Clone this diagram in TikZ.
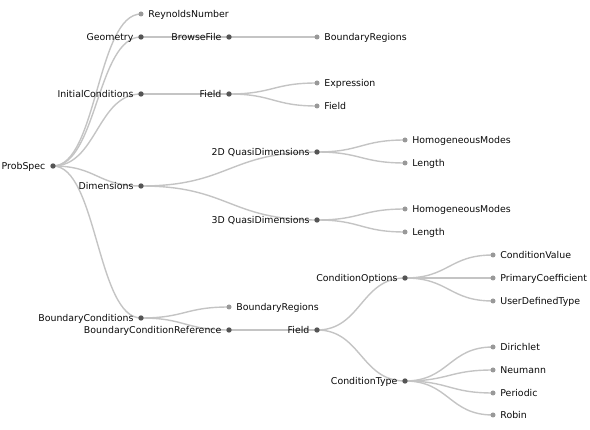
\documentclass[tikz,border=0pt]{standalone}
\usepackage{fontspec}
\setmainfont{DejaVu Sans}
\usepackage{tikz}
\usetikzlibrary{
  calc,%
  positioning
}
\definecolor{edgegray}{HTML}{C4C4C4}
\definecolor{innergray}{HTML}{555555}
\definecolor{leafgray}{HTML}{999999}
\definecolor{textgray}{HTML}{0A0A0A}
\pgfdeclarelayer{background}
\pgfsetlayers{background,main}
\tikzset{
  treeedge/.style={draw=edgegray, line width=1.4pt},
  inner/.style={circle, fill=innergray, inner sep=0pt, minimum size=5.4pt},
  leaf/.style={circle, fill=leafgray, inner sep=0pt, minimum size=5pt},
  every label/.style={font=\fontsize{9.4}{11}\selectfont, text=textgray,
    inner sep=0pt},
  label distance=4.5pt,
  % internal nodes carry their name on the left, leaves on the right
  lft/.style={label={[anchor=base east, yshift=-3.3pt]left:#1}},
  rgt/.style={label={[anchor=base west, yshift=-3.3pt]right:#1}}
}

\begin{document}
\begin{tikzpicture}[x=1pt, y=-1pt]
  \useasboundingbox (0,0) rectangle (590,430); %
  % depth 0 and 1
  \node[inner, lft=ProbSpec] (ps) at (53,166) {}; %
  \node[leaf, rgt=ReynoldsNumber] (reyn) at (141,14) {}; %
  \node[inner, lft=Geometry] (geom) at (141,37) {}; %
  \node[inner, lft=InitialConditions] (ic) at (141,94) {}; %
  \node[inner, lft=Dimensions] (dims) at (141,186) {}; %
  \node[inner, lft=BoundaryConditions] (bc) at (141,318) {}; %
  % depth 2
  \node[inner, lft=BrowseFile] (bfile) at (229,37) {}; %
  \node[inner, lft=Field] (icfield) at (229,94) {}; %
  \node[leaf, rgt=BoundaryRegions] (bregb) at (229,307) {}; %
  \node[inner, lft=BoundaryConditionReference] (bcref) at (229,330) {}; %
  % depth 3
  \node[leaf, rgt=BoundaryRegions] (brega) at (317,37) {}; %
  \node[leaf, rgt=Expression] (expr) at (317,83) {}; %
  \node[leaf, rgt=Field] (fieldleaf) at (317,106) {}; %
  \node[inner, lft={2D QuasiDimensions}] (qdtwo) at (317,152) {}; %
  \node[inner, lft={3D QuasiDimensions}] (qdthree) at (317,220) {}; %
  \node[inner, lft=Field] (bcfield) at (317,330) {}; %
  % depth 4
  \node[leaf, rgt=HomogeneousModes] (hmtwo) at (405,140) {}; %
  \node[leaf, rgt=Length] (lentwo) at (405,163) {}; %
  \node[leaf, rgt=HomogeneousModes] (hmthree) at (405,209) {}; %
  \node[leaf, rgt=Length] (lenthree) at (405,232) {}; %
  \node[inner, lft=ConditionOptions] (copt) at (405,278) {}; %
  \node[inner, lft=ConditionType] (ctype) at (405,381) {}; %
  % depth 5
  \node[leaf, rgt=ConditionValue] (cval) at (493,255) {}; %
  \node[leaf, rgt=PrimaryCoefficient] (pcoef) at (493,278) {}; %
  \node[leaf, rgt=UserDefinedType] (udt) at (493,301) {}; %
  \node[leaf, rgt=Dirichlet] (diri) at (493,347) {}; %
  \node[leaf, rgt=Neumann] (neum) at (493,370) {}; %
  \node[leaf, rgt=Periodic] (peri) at (493,393) {}; %
  \node[leaf, rgt=Robin] (robin) at (493,415) {}; %
  % diagonal links behind the dots
  \begin{pgfonlayer}{background}
    \foreach \s/\t in {ps/reyn, ps/geom, ps/ic, ps/dims, ps/bc,
      geom/bfile, bfile/brega, ic/icfield, icfield/expr, icfield/fieldleaf,
      dims/qdtwo, dims/qdthree, qdtwo/hmtwo, qdtwo/lentwo,
      qdthree/hmthree, qdthree/lenthree,
      bc/bregb, bc/bcref, bcref/bcfield, bcfield/copt, bcfield/ctype,
      copt/cval, copt/pcoef, copt/udt,
      ctype/diri, ctype/neum, ctype/peri, ctype/robin}
    \draw[treeedge] let \p1=(\s.center), \p2=(\t.center) in
      (\p1) .. controls ({0.5*\x1+0.5*\x2},\y1) and ({0.5*\x1+0.5*\x2},\y2)
      .. (\p2); %
  \end{pgfonlayer}
\end{tikzpicture}
\end{document}
